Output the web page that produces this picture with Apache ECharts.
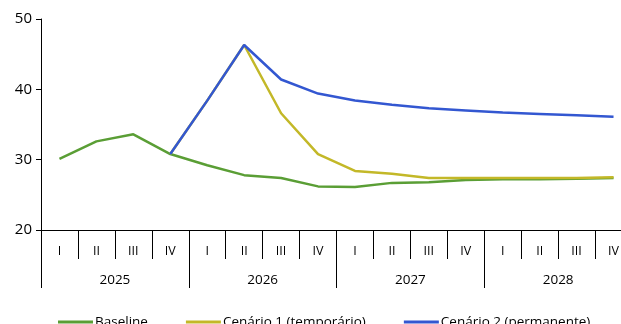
<!DOCTYPE html>
<html>
<head>
<meta charset="utf-8">
<script src="https://cdn.jsdelivr.net/npm/echarts@6/dist/echarts.min.js"></script>
<style>
  html, body { margin: 0; padding: 0; background: #fff; overflow: hidden; }
  #chart { width: 632px; height: 324px; }
</style>
</head>
<body>
<div id="chart"></div>
<script>
// Quarters and years along the horizontal axis
const quarters = ['I', 'II', 'III', 'IV', 'I', 'II', 'III', 'IV', 'I', 'II', 'III', 'IV', 'I', 'II', 'III', 'IV'];
const years = ['2025', '2026', '2027', '2028'];

// Series values per quarter
const baseline = [30.1, 32.6, 33.6, 30.8, 29.2, 27.8, 27.4, 26.2, 26.1, 26.7, 26.8, 27.1, 27.2, 27.2, 27.3, 27.4];
const cenario1 = [null, null, null, 30.8, 38.4, 46.3, 36.6, 30.8, 28.4, 28.0, 27.4, 27.4, 27.4, 27.4, 27.4, 27.5];
const cenario2 = [null, null, null, 30.8, 38.4, 46.3, 41.4, 39.4, 38.4, 37.8, 37.3, 37.0, 36.7, 36.5, 36.3, 36.1];

const seriesNames = ['Baseline', 'Cenário 1 (temporário)', 'Cenário 2 (permanente)'];
const colors = ['#5a9e35', '#c3b828', '#3357d1'];

const font = '"Open Sans", "Noto Sans", sans-serif';

const chart = echarts.init(document.getElementById('chart'), null, { renderer: 'canvas' });

chart.setOption({
  animation: false,
  backgroundColor: '#ffffff',
  color: colors,
  textStyle: { fontFamily: font },
  grid: { left: 41, top: 19, right: 0, bottom: 94, containLabel: false },
  legend: {
    data: seriesNames.map((name, i) => ({
      name: name,
      icon: 'rect',
      itemStyle: { color: colors[i], borderWidth: 0, opacity: 1 }
    })),
    left: 53,
    top: 310,
    itemWidth: 35,
    itemHeight: 3,
    itemGap: 38,
    inactiveColor: colors[0],
    textStyle: { fontFamily: font, fontSize: 13.5, color: '#000', padding: [0, 0, 0, -3] }
  },
  xAxis: [
    {
      type: 'category',
      data: quarters,
      boundaryGap: true,
      position: 'bottom',
      axisLine: { show: true, lineStyle: { color: '#000', width: 1 } },
      axisTick: { show: true, interval: 0, length: 29, lineStyle: { color: '#000', width: 1 } },
      axisLabel: { interval: 0, margin: 15, fontSize: 12.5, color: '#000', fontFamily: font }
    },
    {
      type: 'category',
      data: years,
      boundaryGap: true,
      position: 'bottom',
      offset: 0,
      axisLine: { show: false },
      axisTick: { show: true, interval: 0, length: 58, lineStyle: { color: '#000', width: 1 } },
      axisLabel: { interval: 0, margin: 43, fontSize: 13.5, color: '#000', fontFamily: font }
    }
  ],
  yAxis: {
    type: 'value',
    min: 20,
    max: 50,
    interval: 10,
    axisLine: { show: true, lineStyle: { color: '#000', width: 1 } },
    axisTick: { show: true, length: 5, lineStyle: { color: '#000' } },
    axisLabel: { fontSize: 15, color: '#000', margin: 9, fontFamily: font },
    splitLine: { show: false }
  },
  series: [
    {
      name: seriesNames[0], type: 'line', data: baseline, xAxisIndex: 0,
      symbol: 'none', itemStyle: { color: colors[0] }, lineStyle: { width: 2.5, color: colors[0] }, z: 1
    },
    {
      name: seriesNames[1], type: 'line', data: cenario1, xAxisIndex: 0,
      symbol: 'none', itemStyle: { color: colors[1] }, lineStyle: { width: 2.5, color: colors[1] }, z: 2
    },
    {
      name: seriesNames[2], type: 'line', data: cenario2, xAxisIndex: 0,
      symbol: 'none', itemStyle: { color: colors[2] }, lineStyle: { width: 2.5, color: colors[2] }, z: 3
    }
  ]
});
</script>
</body>
</html>
